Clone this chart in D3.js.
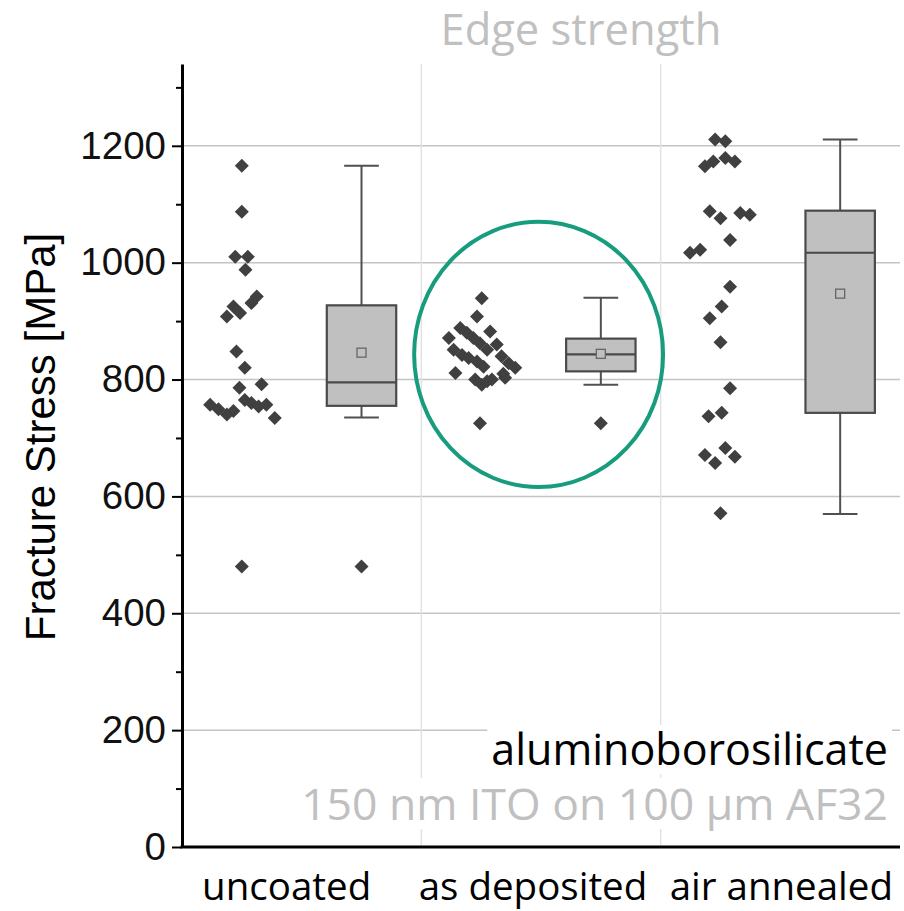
<!DOCTYPE html>
<html>
  <head>
    <meta charset="utf-8" />
    <script src="https://d3js.org/d3.v7.min.js"></script>
    <title>Edge strength</title>
    <style>
      body { margin: 0; background: #fff; }
      .tick text { font-family: "Liberation Sans", Arial, sans-serif; }
    </style>
  </head>
  <body>
    <svg id="chart" width="904" height="911"></svg>
    <script>

      // groups along the x axis
      var groups = ["uncoated", "as deposited", "air annealed"];

      // measured fracture stress [MPa] per group, with sideways jitter (in slot units)
      var uncoatedValues = [1166, 1087, 1010, 1010, 988, 908, 925, 914, 931, 942, 848, 820, 786, 792, 757, 749, 740, 746, 765, 760, 754, 757, 734, 480];
      var uncoatedJitter = [0, 0, -0.055, 0.05, 0.03, -0.125, -0.07, -0.015, 0.08, 0.125, -0.045, 0.025, -0.02, 0.165, -0.265, -0.195, -0.125, -0.07, 0.025, 0.08, 0.14, 0.205, 0.275, 0];

      var depositedValues = [939, 908, 888, 880, 871, 862, 851, 882, 860, 871, 851, 842, 837, 831, 822, 811, 840, 828, 820, 803, 800, 791, 797, 800, 810, 725];
      var depositedJitter = [0.005, -0.035, -0.175, -0.12, -0.065, -0.01, 0.05, 0.075, 0.13, -0.27, -0.23, -0.16, -0.105, -0.035, 0.02, -0.215, 0.17, 0.23, 0.285, 0.2, -0.05, 0.005, 0.05, 0.09, 0.185, -0.01];

      var annealedValues = [1211, 1208, 1165, 1173, 1179, 1173, 1088, 1076, 1085, 1082, 1039, 1017, 1022, 959, 925, 905, 864, 785, 737, 743, 671, 657, 683, 668, 571];
      var annealedJitter = [-0.045, 0.04, -0.13, -0.06, 0.04, 0.12, -0.09, 0, 0.165, 0.245, 0.08, -0.255, -0.17, 0.08, 0.01, -0.09, 0, 0.08, -0.1, 0.01, -0.13, -0.045, 0.04, 0.12, 0];

      // box plot statistics per group
      var boxLow    = [735, 791, 570];
      var boxQ1     = [755, 814, 743];
      var boxMedian = [795, 843, 1017];
      var boxQ3     = [927, 870, 1089];
      var boxHigh   = [1166, 940, 1211];
      var boxMean   = [846, 844, 947];
      var boxOutliers = [[480], [725], []];

      var yTicks = [0, 200, 400, 600, 800, 1000, 1200];
      var yMinorTicks = d3.range(100, 1400, 200);

      var svg = d3.select("#chart");

      var plotLeft = 182, plotRight = 900, plotBottom = 847, plotTop = 64;

      // six slots: scatter, box, scatter, box, scatter, box
      var x = d3.scaleLinear().domain([0.5, 6.5]).range([plotLeft, plotRight]);
      var y = d3.scaleLinear().domain([0, 1340]).range([plotBottom, plotTop]);

      var darkGray = "#404040";

      // horizontal grid
      svg.append("g")
        .selectAll("line")
        .data(yTicks.slice(1))
        .enter().append("line")
        .attr("x1", plotLeft).attr("x2", plotRight)
        .attr("y1", function(d) { return y(d); })
        .attr("y2", function(d) { return y(d); })
        .attr("stroke", "#c4c4c4")
        .attr("stroke-width", 1.5);

      // vertical separators between groups
      svg.append("g")
        .selectAll("line")
        .data([2.5, 4.5])
        .enter().append("line")
        .attr("x1", function(d) { return x(d); })
        .attr("x2", function(d) { return x(d); })
        .attr("y1", plotTop).attr("y2", plotBottom)
        .attr("stroke", "#e2e2e2")
        .attr("stroke-width", 1.5);

      // green ellipse highlighting "as deposited"
      svg.append("ellipse")
        .attr("cx", x(3.48))
        .attr("cy", y(843))
        .attr("rx", x(4.52) - x(3.48))
        .attr("ry", (y(616) - y(1070)) / 2)
        .attr("fill", "none")
        .attr("stroke", "#179c7d")
        .attr("stroke-width", 4);

      var sets = [
        { values: uncoatedValues, jitter: uncoatedJitter },
        { values: depositedValues, jitter: depositedJitter },
        { values: annealedValues, jitter: annealedJitter }
      ];

      function diamond(sel) {
        sel.attr("d", "M0,-7L7,0L0,7L-7,0Z").attr("fill", darkGray);
      }

      // boxes
      groups.forEach(function(g, i) {
        var pos = 2 * i + 2;
        var cx = x(pos);
        var halfBox = (x(1) - x(0)) * 0.29;
        var halfCap = halfBox / 2;
        var bx = svg.append("g");

        bx.append("line")
          .attr("x1", cx).attr("x2", cx)
          .attr("y1", y(boxHigh[i])).attr("y2", y(boxQ3[i]))
          .attr("stroke", "#505050").attr("stroke-width", 2);
        bx.append("line")
          .attr("x1", cx).attr("x2", cx)
          .attr("y1", y(boxQ1[i])).attr("y2", y(boxLow[i]))
          .attr("stroke", "#505050").attr("stroke-width", 2);
        [boxHigh[i], boxLow[i]].forEach(function(v) {
          bx.append("line")
            .attr("x1", cx - halfCap).attr("x2", cx + halfCap)
            .attr("y1", y(v)).attr("y2", y(v))
            .attr("stroke", "#505050").attr("stroke-width", 2);
        });
        bx.append("rect")
          .attr("x", cx - halfBox)
          .attr("y", y(boxQ3[i]))
          .attr("width", halfBox * 2)
          .attr("height", y(boxQ1[i]) - y(boxQ3[i]))
          .attr("fill", "#c0c0c0")
          .attr("stroke", "#4a4a4a")
          .attr("stroke-width", 2.2);
        bx.append("line")
          .attr("x1", cx - halfBox).attr("x2", cx + halfBox)
          .attr("y1", y(boxMedian[i])).attr("y2", y(boxMedian[i]))
          .attr("stroke", "#4a4a4a").attr("stroke-width", 2.2);
        bx.append("rect")
          .attr("x", cx - 4.5).attr("y", y(boxMean[i]) - 4.5)
          .attr("width", 9).attr("height", 9)
          .attr("fill", "#c0c0c0")
          .attr("stroke", "#666")
          .attr("stroke-width", 1.3);
        bx.selectAll("path")
          .data(boxOutliers[i])
          .enter().append("path")
          .attr("transform", function(d) { return "translate(" + cx + "," + y(d) + ")"; })
          .call(diamond);
      });

      // scatter points
      sets.forEach(function(s, i) {
        var pos = 2 * i + 1;
        svg.append("g")
          .selectAll("path")
          .data(s.values)
          .enter().append("path")
          .attr("transform", function(d, j) {
            return "translate(" + x(pos + s.jitter[j]) + "," + y(d) + ")";
          })
          .call(diamond);
      });

      // annotation texts with white backing
      function label(txt, xr, yb, size, color) {
        var t = svg.append("text")
          .attr("x", xr).attr("y", yb)
          .attr("text-anchor", "end")
          .attr("font-family", "'Open Sans', 'Noto Sans', sans-serif")
          .attr("font-size", size)
          .attr("fill", color)
          .text(txt);
        var b = t.node().getBBox();
        svg.insert("rect", function() { return t.node(); })
          .attr("x", b.x - 4).attr("y", b.y + 6)
          .attr("width", b.width + 8).attr("height", b.height - 10)
          .attr("fill", "#fff");
        return t;
      }
      label("aluminoborosilicate", 888, 765, 43, "#000");
      label("150 nm ITO on 100 \u00b5m AF32", 888, 820, 44.5, "#c0c0c0");

      // title
      svg.append("text")
        .attr("x", 581).attr("y", 45)
        .attr("text-anchor", "middle")
        .attr("font-family", "'Open Sans', 'Noto Sans', sans-serif")
        .attr("font-size", 43.5)
        .attr("fill", "#c0c0c0")
        .text("Edge strength");

      // y axis
      var yAxis = svg.append("g")
        .attr("transform", "translate(" + plotLeft + ",0)")
        .call(d3.axisLeft(y).tickValues(yTicks).tickFormat(d3.format("d"))
          .tickSize(10).tickPadding(6).tickSizeOuter(0));
      yAxis.select(".domain").attr("stroke", "#000").attr("stroke-width", 3);
      yAxis.selectAll(".tick line").attr("stroke", "#000").attr("stroke-width", 2);
      yAxis.selectAll(".tick text").attr("font-size", 38.5).attr("fill", "#111");

      var yMinor = svg.append("g")
        .attr("transform", "translate(" + plotLeft + ",0)")
        .call(d3.axisLeft(y).tickValues(yMinorTicks).tickSize(6).tickFormat("").tickSizeOuter(0));
      yMinor.select(".domain").remove();
      yMinor.selectAll(".tick line").attr("stroke", "#000").attr("stroke-width", 2);

      // x axis line
      svg.append("line")
        .attr("x1", plotLeft - 1.5).attr("x2", plotRight)
        .attr("y1", plotBottom).attr("y2", plotBottom)
        .attr("stroke", "#000").attr("stroke-width", 3);

      // group labels (slightly nudged as in the original layout)
      var labelNudge = [-15, -8, 1];
      svg.append("g")
        .selectAll("text")
        .data(groups)
        .enter().append("text")
        .attr("x", function(d, i) { return x(2 * i + 1.5) + labelNudge[i]; })
        .attr("y", 900)
        .attr("text-anchor", "middle")
        .attr("font-family", "'Open Sans', 'Noto Sans', sans-serif")
        .attr("font-size", 38.5)
        .attr("fill", "#000")
        .text(function(d) { return d; });

      // y axis title
      svg.append("text")
        .attr("transform", "translate(55,437) rotate(-90)")
        .attr("text-anchor", "middle")
        .attr("font-family", "'Liberation Sans', Arial, sans-serif")
        .attr("font-size", 42)
        .attr("fill", "#000")
        .text("Fracture Stress [MPa]");

    </script>
  </body>
</html>
